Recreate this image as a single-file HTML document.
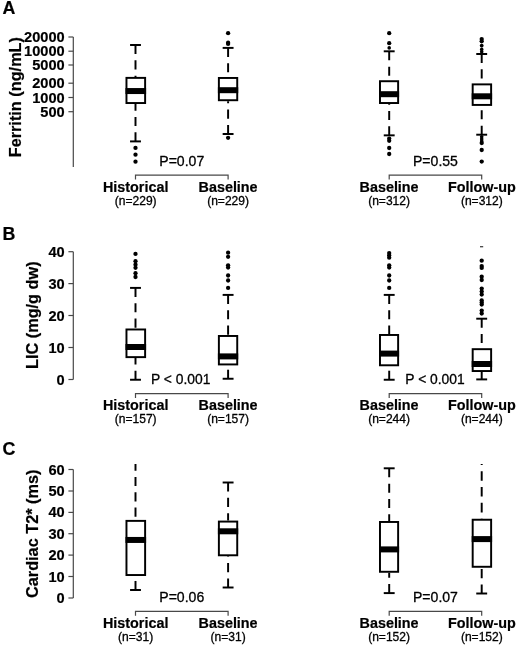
<!DOCTYPE html>
<html><head><meta charset="utf-8"><title>Figure</title>
<style>
html,body{margin:0;padding:0;background:#fff;}
svg{display:block;font-family:"Liberation Sans", Arial, Helvetica, sans-serif;fill:#000;}
text{stroke:#000;stroke-width:0.3px;stroke-linejoin:round;}
text[font-weight=bold]{stroke-width:0.2px;}
</style></head><body>
<svg width="520" height="648" viewBox="0 0 520 648">
<rect width="520" height="648" fill="#fff"/>
<text x="2.5" y="14" font-size="17.8" font-weight="bold">A</text>
<line x1="73.3" y1="37" x2="73.3" y2="167" stroke="#484848" stroke-width="1.2"/>
<line x1="68.39999999999999" y1="37" x2="73.3" y2="37" stroke="#484848" stroke-width="1.2"/>
<text x="64.7" y="42.0" text-anchor="end" font-size="14.6" font-weight="bold">20000</text>
<line x1="68.39999999999999" y1="51.2" x2="73.3" y2="51.2" stroke="#484848" stroke-width="1.2"/>
<text x="64.7" y="56.2" text-anchor="end" font-size="14.6" font-weight="bold">10000</text>
<line x1="68.39999999999999" y1="65" x2="73.3" y2="65" stroke="#484848" stroke-width="1.2"/>
<text x="64.7" y="70.0" text-anchor="end" font-size="14.6" font-weight="bold">5000</text>
<line x1="68.39999999999999" y1="83.2" x2="73.3" y2="83.2" stroke="#484848" stroke-width="1.2"/>
<text x="64.7" y="88.2" text-anchor="end" font-size="14.6" font-weight="bold">2000</text>
<line x1="68.39999999999999" y1="97.5" x2="73.3" y2="97.5" stroke="#484848" stroke-width="1.2"/>
<text x="64.7" y="102.5" text-anchor="end" font-size="14.6" font-weight="bold">1000</text>
<line x1="68.39999999999999" y1="111.7" x2="73.3" y2="111.7" stroke="#484848" stroke-width="1.2"/>
<text x="64.7" y="116.7" text-anchor="end" font-size="14.6" font-weight="bold">500</text>
<text transform="translate(20.9,157.3) rotate(-90)" font-size="16.3" font-weight="bold">Ferritin (ng/mL)</text>
<line x1="135.5" y1="45" x2="135.5" y2="76.9" stroke="#000" stroke-width="1.95" stroke-dasharray="9.05 6.3"/>
<line x1="130.05" y1="45" x2="140.95" y2="45" stroke="#000" stroke-width="1.95"/>
<line x1="135.5" y1="141.4" x2="135.5" y2="104" stroke="#000" stroke-width="1.95" stroke-dasharray="9.05 6.3"/>
<line x1="130.05" y1="141.4" x2="140.95" y2="141.4" stroke="#000" stroke-width="1.95"/>
<rect x="126.47" y="77.88" width="18.65" height="25.15" fill="#fff" stroke="#000" stroke-width="1.95"/>
<rect x="125.50" y="88.05" width="20.60" height="6.0" fill="#000"/>
<circle cx="135.5" cy="147.9" r="2.15" fill="#000"/>
<circle cx="135.5" cy="154.7" r="2.15" fill="#000"/>
<circle cx="135.5" cy="161.7" r="2.15" fill="#000"/>
<line x1="228.1" y1="47.9" x2="228.1" y2="77" stroke="#000" stroke-width="1.95" stroke-dasharray="9.05 6.3"/>
<line x1="222.65" y1="47.9" x2="233.54999999999998" y2="47.9" stroke="#000" stroke-width="1.95"/>
<line x1="228.1" y1="134" x2="228.1" y2="101.2" stroke="#000" stroke-width="1.95" stroke-dasharray="9.05 6.3"/>
<line x1="222.65" y1="134" x2="233.54999999999998" y2="134" stroke="#000" stroke-width="1.95"/>
<rect x="218.88" y="77.97" width="18.35" height="22.25" fill="#fff" stroke="#000" stroke-width="1.95"/>
<rect x="217.90" y="87.20" width="20.30" height="6.0" fill="#000"/>
<circle cx="228.1" cy="33.2" r="2.15" fill="#000"/>
<circle cx="228.1" cy="42.7" r="2.15" fill="#000"/>
<circle cx="228.1" cy="43.9" r="2.15" fill="#000"/>
<circle cx="228.1" cy="137.8" r="2.15" fill="#000"/>
<line x1="389.2" y1="51.3" x2="389.2" y2="80.25" stroke="#000" stroke-width="1.95" stroke-dasharray="9.05 6.3"/>
<line x1="383.75" y1="51.3" x2="394.65" y2="51.3" stroke="#000" stroke-width="1.95"/>
<line x1="389.2" y1="135.35" x2="389.2" y2="104" stroke="#000" stroke-width="1.95" stroke-dasharray="9.05 6.3"/>
<line x1="383.75" y1="135.35" x2="394.65" y2="135.35" stroke="#000" stroke-width="1.95"/>
<rect x="379.98" y="81.22" width="18.15" height="21.80" fill="#fff" stroke="#000" stroke-width="1.95"/>
<rect x="379.00" y="91.20" width="20.10" height="6.0" fill="#000"/>
<circle cx="389.2" cy="33.2" r="2.15" fill="#000"/>
<circle cx="389.2" cy="43.2" r="2.15" fill="#000"/>
<circle cx="389.2" cy="47.9" r="1.8" fill="#000"/>
<circle cx="389.2" cy="138.6" r="2.15" fill="#000"/>
<circle cx="389.2" cy="140.8" r="2.15" fill="#000"/>
<circle cx="389.2" cy="148" r="2.15" fill="#000"/>
<circle cx="389.2" cy="154" r="2.15" fill="#000"/>
<line x1="481.7" y1="54.0" x2="481.7" y2="83.4" stroke="#000" stroke-width="1.95" stroke-dasharray="9.05 6.3"/>
<line x1="476.25" y1="54.0" x2="487.15" y2="54.0" stroke="#000" stroke-width="1.95"/>
<line x1="481.7" y1="134.7" x2="481.7" y2="105.9" stroke="#000" stroke-width="1.95" stroke-dasharray="9.05 6.3"/>
<line x1="476.25" y1="134.7" x2="487.15" y2="134.7" stroke="#000" stroke-width="1.95"/>
<rect x="472.68" y="84.38" width="18.45" height="20.55" fill="#fff" stroke="#000" stroke-width="1.95"/>
<rect x="471.70" y="93.30" width="20.40" height="6.0" fill="#000"/>
<circle cx="481.7" cy="39.1" r="2.15" fill="#000"/>
<circle cx="481.7" cy="41.3" r="2.15" fill="#000"/>
<circle cx="481.7" cy="45.6" r="1.9" fill="#000"/>
<circle cx="481.7" cy="49.4" r="1.8" fill="#000"/>
<circle cx="481.7" cy="51.7" r="1.8" fill="#000"/>
<circle cx="481.7" cy="136.8" r="1.8" fill="#000"/>
<circle cx="481.7" cy="139" r="1.8" fill="#000"/>
<circle cx="481.7" cy="141" r="1.8" fill="#000"/>
<circle cx="481.7" cy="143" r="2.15" fill="#000"/>
<circle cx="481.7" cy="150" r="2.15" fill="#000"/>
<circle cx="481.7" cy="161.6" r="2.15" fill="#000"/>
<path d="M135.5 179.5V175.2H228.1V179.5" fill="none" stroke="#484848" stroke-width="1.2"/>
<text x="159.3" y="165.5" font-size="14.05">P=0.07</text>
<path d="M389.2 179.5V175.2H481.7V179.5" fill="none" stroke="#484848" stroke-width="1.2"/>
<text x="413.0" y="165.5" font-size="14.05">P=0.55</text>
<text x="135.7" y="191.6" text-anchor="middle" font-size="14.35" font-weight="bold" class="b">Historical</text>
<text x="135.7" y="204.7" text-anchor="middle" font-size="12.05" class="r">(n=229)</text>
<text x="228.1" y="191.6" text-anchor="middle" font-size="14.35" font-weight="bold" class="b">Baseline</text>
<text x="228.1" y="204.7" text-anchor="middle" font-size="12.05" class="r">(n=229)</text>
<text x="389.1" y="191.6" text-anchor="middle" font-size="14.35" font-weight="bold" class="b">Baseline</text>
<text x="389.1" y="204.7" text-anchor="middle" font-size="12.05" class="r">(n=312)</text>
<text x="481.85" y="191.6" text-anchor="middle" font-size="14.35" font-weight="bold" class="b">Follow-up</text>
<text x="481.85" y="204.7" text-anchor="middle" font-size="12.05" class="r">(n=312)</text>
<text x="2.5" y="239.6" font-size="17.8" font-weight="bold">B</text>
<line x1="73.3" y1="251.7" x2="73.3" y2="379.5" stroke="#484848" stroke-width="1.2"/>
<line x1="68.39999999999999" y1="251.7" x2="73.3" y2="251.7" stroke="#484848" stroke-width="1.2"/>
<text x="64.7" y="256.7" text-anchor="end" font-size="14.6" font-weight="bold">40</text>
<line x1="68.39999999999999" y1="283.6" x2="73.3" y2="283.6" stroke="#484848" stroke-width="1.2"/>
<text x="64.7" y="288.6" text-anchor="end" font-size="14.6" font-weight="bold">30</text>
<line x1="68.39999999999999" y1="315.5" x2="73.3" y2="315.5" stroke="#484848" stroke-width="1.2"/>
<text x="64.7" y="320.5" text-anchor="end" font-size="14.6" font-weight="bold">20</text>
<line x1="68.39999999999999" y1="347.5" x2="73.3" y2="347.5" stroke="#484848" stroke-width="1.2"/>
<text x="64.7" y="352.5" text-anchor="end" font-size="14.6" font-weight="bold">10</text>
<line x1="68.39999999999999" y1="379.5" x2="73.3" y2="379.5" stroke="#484848" stroke-width="1.2"/>
<text x="64.7" y="384.5" text-anchor="end" font-size="14.6" font-weight="bold">0</text>
<text transform="translate(37.7,369.0) rotate(-90)" font-size="16.3" font-weight="bold">LIC (mg/g dw)</text>
<line x1="135.5" y1="287.9" x2="135.5" y2="328.5" stroke="#000" stroke-width="1.95" stroke-dasharray="9.05 6.3"/>
<line x1="130.05" y1="287.9" x2="140.95" y2="287.9" stroke="#000" stroke-width="1.95"/>
<line x1="135.5" y1="379.75" x2="135.5" y2="358.1" stroke="#000" stroke-width="1.95" stroke-dasharray="9.05 6.3"/>
<line x1="130.05" y1="379.75" x2="140.95" y2="379.75" stroke="#000" stroke-width="1.95"/>
<rect x="126.47" y="329.48" width="18.65" height="27.65" fill="#fff" stroke="#000" stroke-width="1.95"/>
<rect x="125.50" y="344.00" width="20.60" height="6.0" fill="#000"/>
<circle cx="135.5" cy="253.9" r="2.15" fill="#000"/>
<circle cx="135.5" cy="261.2" r="2.15" fill="#000"/>
<circle cx="135.5" cy="264.7" r="2.15" fill="#000"/>
<circle cx="135.5" cy="267.8" r="2.15" fill="#000"/>
<circle cx="135.5" cy="273.2" r="2.15" fill="#000"/>
<circle cx="135.5" cy="277" r="2.15" fill="#000"/>
<line x1="228.1" y1="294.9" x2="228.1" y2="335" stroke="#000" stroke-width="1.95" stroke-dasharray="9.05 6.3"/>
<line x1="222.65" y1="294.9" x2="233.54999999999998" y2="294.9" stroke="#000" stroke-width="1.95"/>
<line x1="228.1" y1="378.75" x2="228.1" y2="365.4" stroke="#000" stroke-width="1.95" stroke-dasharray="9.05 6.3"/>
<line x1="222.65" y1="378.75" x2="233.54999999999998" y2="378.75" stroke="#000" stroke-width="1.95"/>
<rect x="218.88" y="335.98" width="18.35" height="28.45" fill="#fff" stroke="#000" stroke-width="1.95"/>
<rect x="217.90" y="353.40" width="20.30" height="6.0" fill="#000"/>
<circle cx="228.1" cy="252.7" r="2.15" fill="#000"/>
<circle cx="228.1" cy="256.8" r="2.15" fill="#000"/>
<circle cx="228.1" cy="265.3" r="2.15" fill="#000"/>
<circle cx="228.1" cy="267.6" r="2.15" fill="#000"/>
<circle cx="228.1" cy="275.5" r="2.15" fill="#000"/>
<circle cx="228.1" cy="280.5" r="2.15" fill="#000"/>
<circle cx="228.1" cy="287.9" r="2.15" fill="#000"/>
<line x1="389.2" y1="294.9" x2="389.2" y2="334" stroke="#000" stroke-width="1.95" stroke-dasharray="9.05 6.3"/>
<line x1="383.75" y1="294.9" x2="394.65" y2="294.9" stroke="#000" stroke-width="1.95"/>
<line x1="389.2" y1="379.75" x2="389.2" y2="366.25" stroke="#000" stroke-width="1.95" stroke-dasharray="9.05 6.3"/>
<line x1="383.75" y1="379.75" x2="394.65" y2="379.75" stroke="#000" stroke-width="1.95"/>
<rect x="379.98" y="334.98" width="18.15" height="30.30" fill="#fff" stroke="#000" stroke-width="1.95"/>
<rect x="379.00" y="350.60" width="20.10" height="6.0" fill="#000"/>
<circle cx="389.2" cy="253.1" r="2.15" fill="#000"/>
<circle cx="389.2" cy="255.3" r="2.15" fill="#000"/>
<circle cx="389.2" cy="257.7" r="2.15" fill="#000"/>
<circle cx="389.2" cy="265.3" r="2.15" fill="#000"/>
<circle cx="389.2" cy="267.6" r="2.15" fill="#000"/>
<circle cx="389.2" cy="275.5" r="2.15" fill="#000"/>
<circle cx="389.2" cy="280.5" r="2.15" fill="#000"/>
<circle cx="389.2" cy="287.9" r="2.15" fill="#000"/>
<line x1="481.7" y1="318.7" x2="481.7" y2="348.2" stroke="#000" stroke-width="1.95" stroke-dasharray="9.05 6.3"/>
<line x1="476.25" y1="318.7" x2="487.15" y2="318.7" stroke="#000" stroke-width="1.95"/>
<line x1="481.7" y1="379.4" x2="481.7" y2="372" stroke="#000" stroke-width="1.95" stroke-dasharray="9.05 6.3"/>
<line x1="476.25" y1="379.4" x2="487.15" y2="379.4" stroke="#000" stroke-width="1.95"/>
<rect x="472.68" y="349.18" width="18.45" height="21.85" fill="#fff" stroke="#000" stroke-width="1.95"/>
<rect x="471.70" y="361.00" width="20.40" height="6.0" fill="#000"/>
<circle cx="481.7" cy="260.7" r="2.15" fill="#000"/>
<circle cx="481.7" cy="266.1" r="2.15" fill="#000"/>
<circle cx="481.7" cy="267.9" r="2.15" fill="#000"/>
<circle cx="481.7" cy="276.7" r="2.15" fill="#000"/>
<circle cx="481.7" cy="280" r="2.15" fill="#000"/>
<circle cx="481.7" cy="288.6" r="2.15" fill="#000"/>
<circle cx="481.7" cy="291.6" r="2.15" fill="#000"/>
<circle cx="481.7" cy="294.6" r="2.15" fill="#000"/>
<circle cx="481.7" cy="300.5" r="2.15" fill="#000"/>
<circle cx="481.7" cy="302.6" r="2.15" fill="#000"/>
<circle cx="481.7" cy="304.6" r="2.15" fill="#000"/>
<circle cx="481.7" cy="310.6" r="2.15" fill="#000"/>
<circle cx="481.7" cy="313.5" r="2.15" fill="#000"/>
<rect x="480.0" y="246.2" width="3.2" height="1.1" fill="#222"/>
<path d="M135.5 398.0V393.7H228.1V398.0" fill="none" stroke="#484848" stroke-width="1.2"/>
<text x="151.0" y="384.0" font-size="13.85">P &lt; 0.001</text>
<path d="M389.2 398.0V393.7H481.7V398.0" fill="none" stroke="#484848" stroke-width="1.2"/>
<text x="405.3" y="384.0" font-size="13.85">P &lt; 0.001</text>
<text x="135.7" y="410.0" text-anchor="middle" font-size="14.35" font-weight="bold" class="b">Historical</text>
<text x="135.7" y="423.1" text-anchor="middle" font-size="12.05" class="r">(n=157)</text>
<text x="228.1" y="410.0" text-anchor="middle" font-size="14.35" font-weight="bold" class="b">Baseline</text>
<text x="228.1" y="423.1" text-anchor="middle" font-size="12.05" class="r">(n=157)</text>
<text x="389.1" y="410.0" text-anchor="middle" font-size="14.35" font-weight="bold" class="b">Baseline</text>
<text x="389.1" y="423.1" text-anchor="middle" font-size="12.05" class="r">(n=244)</text>
<text x="481.85" y="410.0" text-anchor="middle" font-size="14.35" font-weight="bold" class="b">Follow-up</text>
<text x="481.85" y="423.1" text-anchor="middle" font-size="12.05" class="r">(n=244)</text>
<text x="2.5" y="454.9" font-size="17.8" font-weight="bold">C</text>
<line x1="73.3" y1="469.5" x2="73.3" y2="598" stroke="#484848" stroke-width="1.2"/>
<line x1="68.39999999999999" y1="469.5" x2="73.3" y2="469.5" stroke="#484848" stroke-width="1.2"/>
<text x="64.7" y="474.5" text-anchor="end" font-size="14.6" font-weight="bold">60</text>
<line x1="68.39999999999999" y1="491.0" x2="73.3" y2="491.0" stroke="#484848" stroke-width="1.2"/>
<text x="64.7" y="496.0" text-anchor="end" font-size="14.6" font-weight="bold">50</text>
<line x1="68.39999999999999" y1="512.4" x2="73.3" y2="512.4" stroke="#484848" stroke-width="1.2"/>
<text x="64.7" y="517.4" text-anchor="end" font-size="14.6" font-weight="bold">40</text>
<line x1="68.39999999999999" y1="533.7" x2="73.3" y2="533.7" stroke="#484848" stroke-width="1.2"/>
<text x="64.7" y="538.7" text-anchor="end" font-size="14.6" font-weight="bold">30</text>
<line x1="68.39999999999999" y1="555.1" x2="73.3" y2="555.1" stroke="#484848" stroke-width="1.2"/>
<text x="64.7" y="560.1" text-anchor="end" font-size="14.6" font-weight="bold">20</text>
<line x1="68.39999999999999" y1="576.5" x2="73.3" y2="576.5" stroke="#484848" stroke-width="1.2"/>
<text x="64.7" y="581.5" text-anchor="end" font-size="14.6" font-weight="bold">10</text>
<line x1="68.39999999999999" y1="598" x2="73.3" y2="598" stroke="#484848" stroke-width="1.2"/>
<text x="64.7" y="603.0" text-anchor="end" font-size="14.6" font-weight="bold">0</text>
<text transform="translate(37.6,598.0) rotate(-90)" font-size="16.3" font-weight="bold">Cardiac T2* (ms)</text>
<clipPath id="c4639"><rect x="0" y="463.9" width="520" height="200"/></clipPath>
<clipPath id="c4640"><rect x="0" y="464.0" width="520" height="200"/></clipPath>
<g clip-path="url(#c4640)"><line x1="135.5" y1="461.6" x2="135.5" y2="519.9" stroke="#000" stroke-width="1.95" stroke-dasharray="9.2 6.1"/></g>
<line x1="135.5" y1="590" x2="135.5" y2="576" stroke="#000" stroke-width="1.95" stroke-dasharray="9.05 6.3"/>
<line x1="130.05" y1="590" x2="140.95" y2="590" stroke="#000" stroke-width="1.95"/>
<rect x="126.47" y="520.88" width="18.65" height="54.15" fill="#fff" stroke="#000" stroke-width="1.95"/>
<rect x="125.50" y="536.95" width="20.60" height="6.0" fill="#000"/>
<line x1="228.1" y1="482.5" x2="228.1" y2="520.6" stroke="#000" stroke-width="1.95" stroke-dasharray="9.05 6.3"/>
<line x1="222.65" y1="482.5" x2="233.54999999999998" y2="482.5" stroke="#000" stroke-width="1.95"/>
<line x1="228.1" y1="587.5" x2="228.1" y2="556.25" stroke="#000" stroke-width="1.95" stroke-dasharray="9.05 6.3"/>
<line x1="222.65" y1="587.5" x2="233.54999999999998" y2="587.5" stroke="#000" stroke-width="1.95"/>
<rect x="218.88" y="521.58" width="18.35" height="33.70" fill="#fff" stroke="#000" stroke-width="1.95"/>
<rect x="217.90" y="528.30" width="20.30" height="6.0" fill="#000"/>
<line x1="389.2" y1="468.3" x2="389.2" y2="521" stroke="#000" stroke-width="1.95" stroke-dasharray="9.05 6.3"/>
<line x1="383.75" y1="468.3" x2="394.65" y2="468.3" stroke="#000" stroke-width="1.95"/>
<line x1="389.2" y1="593.1" x2="389.2" y2="572.75" stroke="#000" stroke-width="1.95" stroke-dasharray="9.05 6.3"/>
<line x1="383.75" y1="593.1" x2="394.65" y2="593.1" stroke="#000" stroke-width="1.95"/>
<rect x="379.98" y="521.98" width="18.15" height="49.80" fill="#fff" stroke="#000" stroke-width="1.95"/>
<rect x="379.00" y="546.40" width="20.10" height="6.0" fill="#000"/>
<g clip-path="url(#c4640)"><line x1="481.7" y1="455.4" x2="481.7" y2="518.75" stroke="#000" stroke-width="1.95" stroke-dasharray="9.6 6.2"/></g>
<line x1="481.7" y1="593.5" x2="481.7" y2="567.75" stroke="#000" stroke-width="1.95" stroke-dasharray="9.05 6.3"/>
<line x1="476.25" y1="593.5" x2="487.15" y2="593.5" stroke="#000" stroke-width="1.95"/>
<rect x="472.68" y="519.73" width="18.45" height="47.05" fill="#fff" stroke="#000" stroke-width="1.95"/>
<rect x="471.70" y="536.10" width="20.40" height="6.0" fill="#000"/>
<path d="M135.5 615.6999999999999V611.4H228.1V615.6999999999999" fill="none" stroke="#484848" stroke-width="1.2"/>
<text x="159.3" y="602.4" font-size="14.05">P=0.06</text>
<path d="M389.2 615.6999999999999V611.4H481.7V615.6999999999999" fill="none" stroke="#484848" stroke-width="1.2"/>
<text x="413.0" y="602.4" font-size="14.05">P=0.07</text>
<text x="135.7" y="627.6" text-anchor="middle" font-size="14.35" font-weight="bold" class="b">Historical</text>
<text x="135.7" y="640.7" text-anchor="middle" font-size="12.05" class="r">(n=31)</text>
<text x="228.1" y="627.6" text-anchor="middle" font-size="14.35" font-weight="bold" class="b">Baseline</text>
<text x="228.1" y="640.7" text-anchor="middle" font-size="12.05" class="r">(n=31)</text>
<text x="389.1" y="627.6" text-anchor="middle" font-size="14.35" font-weight="bold" class="b">Baseline</text>
<text x="389.1" y="640.7" text-anchor="middle" font-size="12.05" class="r">(n=152)</text>
<text x="481.85" y="627.6" text-anchor="middle" font-size="14.35" font-weight="bold" class="b">Follow-up</text>
<text x="481.85" y="640.7" text-anchor="middle" font-size="12.05" class="r">(n=152)</text>
</svg>
</body></html>
